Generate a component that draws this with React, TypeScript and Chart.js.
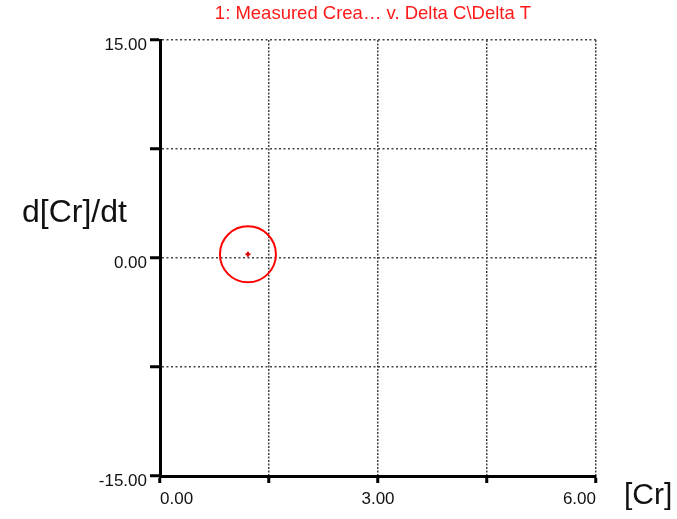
import React, { useEffect, useRef } from "react";
import { Chart, registerables } from "chart.js";

Chart.register(...registerables);

const TITLE = "1: Measured Crea\u2026 v. Delta C\\Delta T";
const X_TITLE = "[Cr]";
const Y_TITLE = "d[Cr]/dt";

const xLabeledTicks = [0, 3, 6];
const yLabeledTicks = [-15, 0, 15];

const crValues = [1.21];
const dCrDtValues = [0.25];

const FONT = '"Liberation Sans", Arial, sans-serif';

const textPlugin = {
  id: "texts",
  afterDraw(chart: any) {
    const ctx = chart.ctx;
    const a = chart.chartArea;
    ctx.save();
    ctx.fillStyle = "#ff1a1a";
    ctx.font = `18.5px ${FONT}`;
    ctx.textAlign = "center";
    ctx.textBaseline = "middle";
    ctx.fillText(TITLE, (a.left + a.right) / 2 - 5, 14);
    ctx.fillStyle = "#111";
    ctx.font = `32px ${FONT}`;
    ctx.textAlign = "left";
    ctx.fillText(Y_TITLE, 22, 213);
    ctx.font = `30px ${FONT}`;
    ctx.fillText(X_TITLE, a.right + 28, 496);
    ctx.restore();
  },
};

export default function App() {
  const ref = useRef<HTMLCanvasElement | null>(null);
  useEffect(() => {
    if (!ref.current) return;
    const pts = crValues.map((x, i) => ({ x, y: dCrDtValues[i] }));
    const chart = new Chart(ref.current, {
      type: "scatter",
      data: {
        datasets: [
          {
            data: pts,
            pointRadius: 28,
            pointBorderWidth: 2,
            borderColor: "#ff0000",
            backgroundColor: "rgba(0,0,0,0)",
            pointBackgroundColor: "rgba(0,0,0,0)",
            pointBorderColor: "#ff0000",
          },
          {
            data: pts,
            pointRadius: 2.5,
            pointBorderWidth: 2,
            pointStyle: "cross",
            pointBorderColor: "#e00000",
            pointBackgroundColor: "#e00000",
          },
        ],
      },
      options: {
        animation: false,
        responsive: true,
        maintainAspectRatio: false,
        layout: { padding: { top: 40, right: 81, left: 0, bottom: 0 } },
        plugins: {
          legend: { display: false },
          title: { display: false },
          tooltip: { enabled: false },
        },
        scales: {
          x: {
            type: "linear",
            min: 0,
            max: 6,
            afterFit: (s: any) => {
              s.height = 43;
            },
            afterBuildTicks: (s: any) => {
              s.ticks = [0, 1.5, 3, 4.5, 6].map((v) => ({ value: v }));
            },
            ticks: {
              autoSkip: false,
              maxRotation: 0,
              align: "inner",
              padding: 6,
              color: "#111",
              font: { family: FONT, size: 17 },
              callback: (v: any) =>
                xLabeledTicks.includes(Number(v)) ? Number(v).toFixed(2) : "",
            },
            grid: {
              color: "#444",
              lineWidth: 1.5,
              tickLength: 7,
              tickColor: "#000",
              tickWidth: 3,
              tickBorderDash: [],
            },
            border: { display: true, color: "#000", width: 3, dash: [2, 1.5] },
          },
          y: {
            type: "linear",
            min: -15,
            max: 15,
            afterFit: (s: any) => {
              s.width = 160;
            },
            afterBuildTicks: (s: any) => {
              s.ticks = [-15, -7.5, 0, 7.5, 15].map((v) => ({ value: v }));
            },
            ticks: {
              autoSkip: false,
              padding: 3,
              labelOffset: 5,
              color: "#111",
              font: { family: FONT, size: 17 },
              callback: (v: any) =>
                yLabeledTicks.includes(Number(v)) ? Number(v).toFixed(2) : "",
            },
            grid: {
              color: "#444",
              lineWidth: 1.5,
              tickLength: 10,
              tickColor: "#000",
              tickWidth: 3,
              tickBorderDash: [],
            },
            border: { display: true, color: "#000", width: 3, dash: [2, 2.5] },
          },
        },
      },
      plugins: [textPlugin],
    } as any);
    return () => chart.destroy();
  }, []);
  return (
    <div style={{ position: "fixed", left: 0, top: 0, width: 677, height: 519, background: "#fff" }}>
      <canvas ref={ref} />
    </div>
  );
}
